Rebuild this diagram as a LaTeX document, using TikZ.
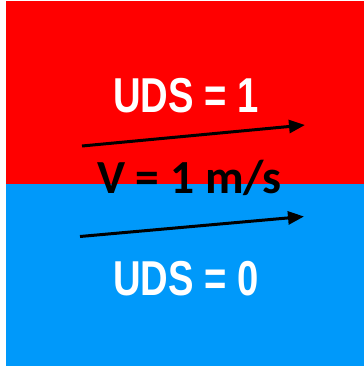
\documentclass[tikz,border=0pt]{standalone}
\usepackage{fontspec}
\setmainfont{Liberation Sans}
\newfontfamily\calib{Carlito}
\usetikzlibrary{arrows.meta}
\definecolor{hotred}{RGB}{255,0,0}
\definecolor{skyblue}{RGB}{0,153,250}
\tikzset{
  udslabel/.style={text=white, font=\fontsize{49}{49}\selectfont\bfseries, anchor=base, inner sep=0pt},
  vlabel/.style={text=black, font=\calib\fontsize{47.5}{47.5}\selectfont\bfseries, anchor=base, inner sep=0pt},
  flow/.style={line width=3pt, -{Triangle[length=16pt,width=13pt]}}
}
\begin{document}
\begin{tikzpicture}[x=1pt,y=-1pt]
  \useasboundingbox (0,0) rectangle (364,367);
  % upper and lower layers
  \fill[hotred] (6,1) rectangle (364,184);
  \fill[skyblue] (6,184) rectangle (364,366);
  % labels
  \node[udslabel] (top) at (186,112.7) {\scalebox{0.78}[1]{UDS = 1}};
  \node[udslabel] (bot) at (186,295) {\scalebox{0.78}[1]{UDS = 0}};
  \node[vlabel] (vel) at (189.5,193) {V = 1 m/s};
  % flow arrows
  \coordinate (a1) at (82,146);
  \coordinate (b1) at (305,125);
  \coordinate (a2) at (80,236.5);
  \coordinate (b2) at (304,216.5);
  \draw[flow] (a1) -- (b1);
  \draw[flow] (a2) -- (b2);
\end{tikzpicture}
\end{document}
